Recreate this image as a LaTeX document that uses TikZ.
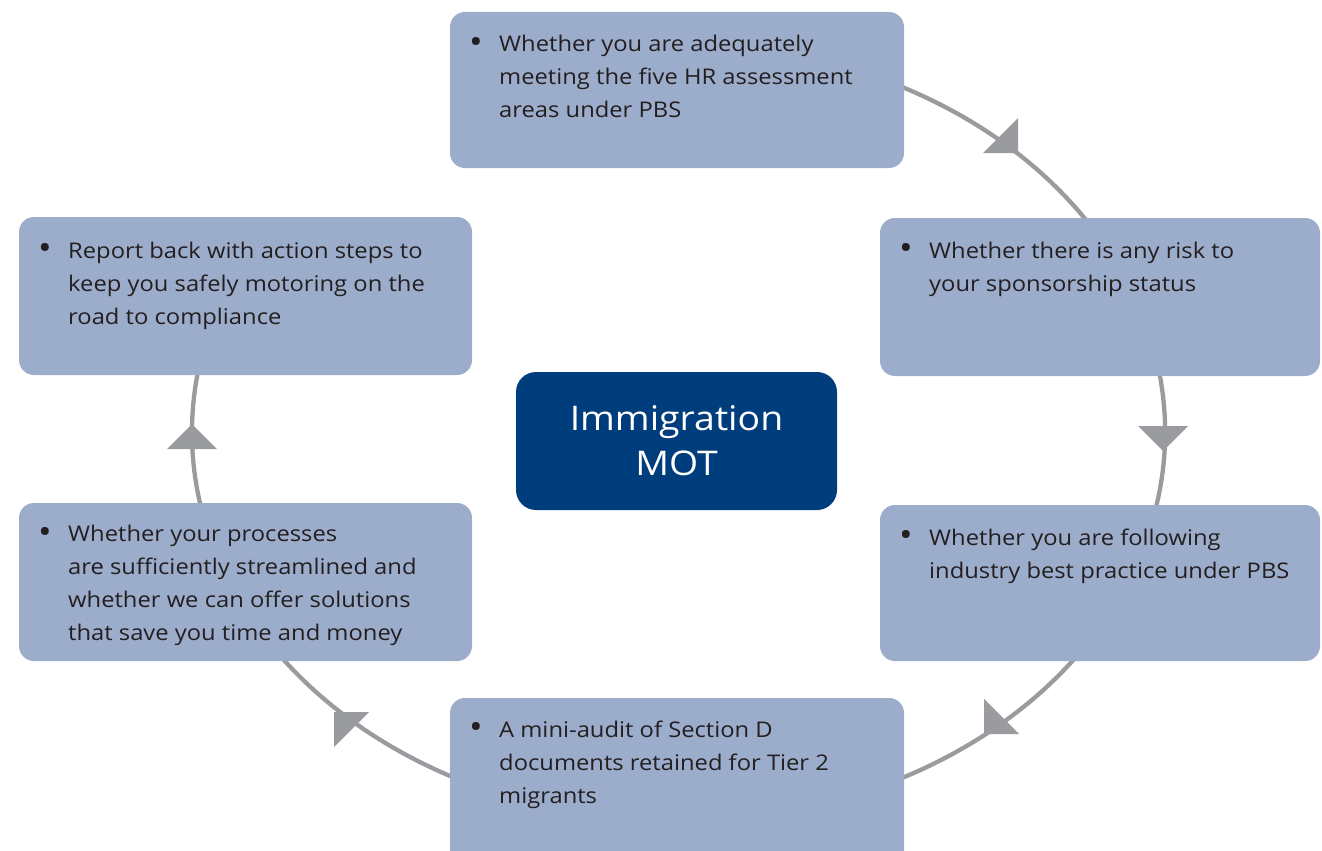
\documentclass[tikz,border=0pt]{standalone}
\usepackage{fontspec}
\setmainfont{Open Sans}[FakeStretch=1.1]
\definecolor{boxblue}{HTML}{9CACCB}
\definecolor{darkblue}{HTML}{003D7C}
\definecolor{ringgray}{HTML}{9A9B9F}
\definecolor{txt}{HTML}{231F20}
\newcommand{\bitem}[1]{\makebox[30pt][l]{\raisebox{-1.5pt}{\fontsize{33}{33}\selectfont •}}\begin{tabular}[t]{@{}l@{}}#1\end{tabular}}
\begin{document}
\begin{tikzpicture}[x=1pt,y=-1pt,
  card/.style={draw=none,fill=boxblue,rounded corners=15pt},
  btext/.style={anchor=base west,inner sep=0pt,text=txt,
    font=\fontsize{21.6}{33}\selectfont},
  ring/.style={draw=ringgray,line width=4.3pt},
  tip/.style={fill=ringgray}]
\useasboundingbox (0,0) rectangle (1322,851);
\clip (0,0) rectangle (1322,851);
\coordinate (c) at (678.5,432.5);
% ring
\draw[ring] ([shift={(-70:486.5 and 389)}]c) arc[start angle=-70,end angle=190,x radius=486.5,y radius=389];
% arrowheads
\fill[tip] (1018,153) -- (1018,118) -- (983,153) -- cycle;
\fill[tip] (1163,451) -- (1138,426) -- (1188,426) -- cycle;
\fill[tip] (984,734) -- (984,699) -- (1019,734) -- cycle;
\fill[tip] (334,712) -- (369,712) -- (334,747) -- cycle;
\fill[tip] (192,424) -- (167,449) -- (217,449) -- cycle;
% boxes
\path[card] (450,12) rectangle (904,168);
\path[card] (880,218) rectangle (1320,376);
\path[card] (880,505) rectangle (1320,661);
\path[card] (450,698) rectangle (904,880);
\path[card] (19,503) rectangle (472,661);
\path[card] (19,217) rectangle (472,375);
\node[fill=darkblue,rounded corners=20pt,minimum width=321pt,minimum height=138pt,inner sep=0pt,
  text=white,align=center,font=\fontsize{34}{45}\selectfont] (mot) at (676.5,441) {Immigration\\MOT};
% texts
\node[btext] (t1) at (469,52) {\bitem{Whether you are adequately\\meeting the five HR assessment\\areas under PBS}};
\node[btext] (t2) at (899,258) {\bitem{Whether there is any risk to\\your sponsorship status}};
\node[btext] (t3) at (899,545) {\bitem{Whether you are following\\industry best practice under PBS}};
\node[btext] (t4) at (469,737) {\bitem{A mini-audit of Section D\\documents retained for Tier 2\\migrants}};
\node[btext] (t5) at (38,541.5) {\bitem{Whether your processes\\are sufficiently streamlined and\\whether we can offer solutions\\that save you time and money}};
\node[btext] (t6) at (38,258) {\bitem{Report back with action steps to\\keep you safely motoring on the\\road to compliance}};
\end{tikzpicture}
\end{document}
